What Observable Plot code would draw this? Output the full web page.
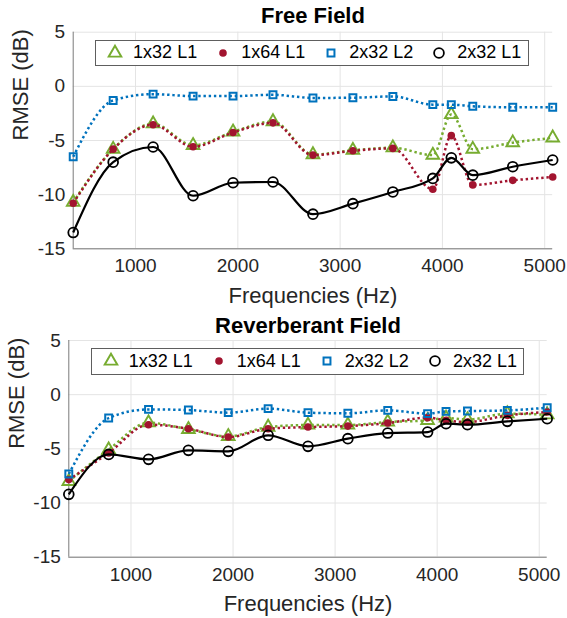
<!DOCTYPE html>
<html>
<head>
<meta charset="utf-8">
<script src="https://cdn.jsdelivr.net/npm/d3@7"></script>
<script src="https://cdn.jsdelivr.net/npm/@observablehq/plot@0.6"></script>
<style>
  body { margin: 0; background: #fff; font-family: "Liberation Sans", Arial, sans-serif; }
  .panel { position: relative; width: 567px; }
  .panel > svg { display: block; }
  .legend { position: absolute; box-sizing: border-box; border: 1px solid #5e5e5e; background: #fff;
            display: flex; align-items: center; padding-left: 13px; gap: 20px;
            font-size: 18px; color: #000; font-family: "Liberation Sans", Arial, sans-serif; }
  .item { display: flex; align-items: center; gap: 12px; white-space: nowrap; }
  .item svg { width: 12px; height: 12px; overflow: visible; }
</style>
</head>
<body>
<div id="chart"></div>
<script>
// ---- data ----
const frequencies = [390.625, 781.25, 1171.875, 1562.5, 1953.125, 2343.75, 2734.375, 3125, 3515.625, 3906.25, 4087, 4296.875, 4687.5, 5078.125];
const seriesNames = ["1x32 L1", "1x64 L1", "2x32 L2", "2x32 L1"];
const panelTitles = ["Free Field", "Reverberant Field"];
const xLabel = "Frequencies (Hz)";
const yLabel = "RMSE (dB)";
const xTicks = [1000, 2000, 3000, 4000, 5000];
const yTicks = [5, 0, -5, -10, -15];

const free_1x32L1 = [-10.7, -5.8, -3.45, -5.45, -4.2, -3.25, -6.3, -5.9, -5.67, -6.35, -2.6, -5.8, -5.2, -4.75];
const free_1x64L1 = [-10.8, -5.8, -3.55, -5.58, -4.26, -3.37, -6.35, -5.95, -5.73, -9.5, -4.55, -9.1, -8.68, -8.37];
const free_2x32L2 = [-6.5, -1.3, -0.72, -0.9, -0.9, -0.78, -1.07, -1.05, -0.93, -1.69, -1.69, -1.84, -1.93, -1.93];
const free_2x32L1 = [-13.5, -7.0, -5.6, -10.1, -8.9, -8.83, -11.8, -10.83, -9.75, -8.5, -6.6, -8.2, -7.42, -6.8];

const rev_1x32L1 = [-8.0, -5.08, -2.59, -3.2, -3.85, -2.99, -2.8, -2.8, -2.52, -2.37, -2.15, -2.3, -1.75, -1.85];
const rev_1x64L1 = [-7.84, -5.38, -2.77, -3.14, -3.91, -3.14, -2.99, -2.9, -2.62, -2.12, -2.37, -2.52, -1.91, -1.6];
const rev_2x32L2 = [-7.32, -2.16, -1.36, -1.42, -1.66, -1.29, -1.66, -1.72, -1.45, -1.75, -1.54, -1.51, -1.45, -1.2];
const rev_2x32L1 = [-9.2, -5.51, -5.97, -5.14, -5.23, -3.75, -4.77, -4.06, -3.54, -3.45, -2.68, -2.77, -2.46, -2.22];

// ---- styles (not data) ----
const styles = [
  {color: "#77AC30", symbol: "triangle", r: 4.7, hollow: true, dash: "2.4,2.8", sw: 2.5, msw: 1.9},
  {color: "#A2142F", symbol: "circle", r: 3.8, hollow: false, dash: "2.4,2.8", sw: 2.5, msw: 0},
  {color: "#0072BD", symbol: "square", r: 3.9, hollow: true, dash: "2.4,2.8", sw: 2.5, msw: 2},
  {color: "#000000", symbol: "circle", r: 4.9, hollow: true, dash: null, sw: 2.2, msw: 1.8}
];

const fontFamily = '"Liberation Sans", Arial, sans-serif';
const ink = "#262626";

function makePanel(title, values, layout) {
  const rows = [];
  values.forEach((vals, si) => vals.forEach((v, i) => rows.push({si, f: frequencies[i], v})));
  const xDomain = d3.extent(frequencies);
  const yDomain = d3.extent(yTicks);
  const marks = [
    Plot.gridX(xTicks, {stroke: "#e4e4e4", strokeOpacity: 1, strokeWidth: 1}),
    Plot.gridY(yTicks, {stroke: "#e4e4e4", strokeOpacity: 1, strokeWidth: 1}),
    Plot.ruleX([xDomain[0]], {stroke: "#7a7a7a", strokeWidth: 1}),
    Plot.ruleY([yDomain[0]], {stroke: "#7a7a7a", strokeWidth: 1})
  ];
  styles.forEach((s, si) => {
    const data = rows.filter(d => d.si === si);
    marks.push(Plot.line(data, {x: "f", y: "v", curve: "monotone-x", stroke: s.color,
      strokeWidth: s.sw, strokeDasharray: s.dash || undefined, strokeLinecap: "butt"}));
    marks.push(Plot.dot(data, {x: "f", y: "v", symbol: s.symbol, r: s.r,
      fill: s.hollow ? "none" : s.color, stroke: s.hollow ? s.color : "none", strokeWidth: s.msw}));
  });
  marks.push(
    Plot.text([title], {text: d => d, frameAnchor: "top", lineAnchor: "middle", dy: layout.titleDy, fontSize: 22, fontWeight: "bold", fill: "#000"}),
    Plot.text([xLabel], {text: d => d, frameAnchor: "bottom", lineAnchor: "middle", dy: layout.xLabelDy, fontSize: 22, fill: ink}),
    Plot.text([yLabel], {text: d => d, frameAnchor: "left", lineAnchor: "middle", dx: layout.yLabelDx, rotate: -90, fontSize: 22, fill: ink})
  );
  const svg = Plot.plot({
    width: 567,
    height: layout.height,
    marginLeft: layout.ml, marginRight: layout.mr, marginTop: layout.mt, marginBottom: layout.mb,
    style: {fontFamily, fontSize: "19px", color: ink, background: "#fff"},
    x: {domain: xDomain, ticks: xTicks, tickSize: 0, tickPadding: 10, tickFormat: d => String(d), label: null},
    y: {domain: yDomain, ticks: yTicks, tickSize: 0, tickPadding: 8, tickFormat: d => String(d), label: null},
    marks
  });
  const wrap = document.createElement("div");
  wrap.className = "panel";
  wrap.appendChild(svg);
  // legend
  const plotW = 567 - layout.ml - layout.mr;
  const lg = document.createElement("div");
  lg.className = "legend";
  lg.style.left = (layout.ml + 22.4) + "px";
  lg.style.top = (layout.mt + 8) + "px";
  lg.style.width = (plotW - 45.4) + "px";
  lg.style.height = "26.5px";
  seriesNames.forEach((name, si) => {
    const s = styles[si];
    const it = document.createElement("div");
    it.className = "item";
    const sym = {circle: d3.symbolCircle, triangle: d3.symbolTriangle, square: d3.symbolSquare}[s.symbol];
    const path = d3.symbol(sym, Math.PI * s.r * s.r)();
    const ms = d3.create("svg").attr("viewBox", "-6 -6 12 12");
    ms.append("path").attr("d", path)
      .attr("fill", s.hollow ? "none" : s.color)
      .attr("stroke", s.hollow ? s.color : "none")
      .attr("stroke-width", s.msw);
    it.appendChild(ms.node());
    const tx = document.createElement("span");
    tx.textContent = name;
    it.appendChild(tx);
    lg.appendChild(it);
  });
  wrap.appendChild(lg);
  return wrap;
}

const chart = document.getElementById("chart");
chart.appendChild(makePanel(panelTitles[0], [free_1x32L1, free_1x64L1, free_2x32L2, free_2x32L1],
  {height: 310, ml: 72.7, mr: 14.8, mt: 31.7, mb: 61.7, titleDy: -16.7, xLabelDy: 46.7, yLabelDx: -52.5}));
chart.appendChild(makePanel(panelTitles[1], [rev_1x32L1, rev_1x64L1, rev_2x32L2, rev_2x32L1],
  {height: 308, ml: 68.3, mr: 20.3, mt: 30, mb: 61.3, titleDy: -15, xLabelDy: 46.3, yLabelDx: -52}));
</script>
</body>
</html>
